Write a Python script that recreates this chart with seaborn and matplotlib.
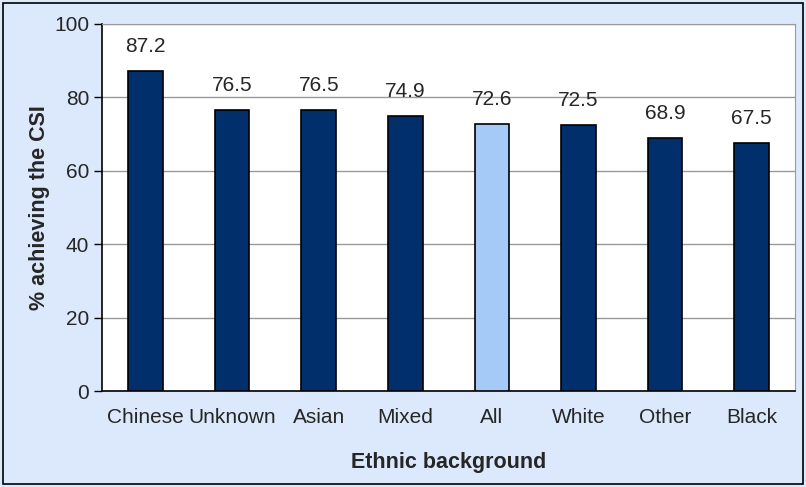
import matplotlib.pyplot as plt
import seaborn as sns
import pandas as pd
from matplotlib.patches import Rectangle

# Data
groups = ['Chinese', 'Unknown', 'Asian', 'Mixed', 'All', 'White', 'Other', 'Black']
pct = [87.2, 76.5, 76.5, 74.9, 72.6, 72.5, 68.9, 67.5]
bar_colors = ['#002f6c', '#002f6c', '#002f6c', '#002f6c', '#a6caf8', '#002f6c', '#002f6c', '#002f6c']

df = pd.DataFrame({'group': groups, 'pct': pct})

sns.set_style("white")
plt.rcParams['font.family'] = ['Liberation Sans', 'DejaVu Sans']

bg = '#dce9fc'
fig = plt.figure(figsize=(8.06, 4.87), dpi=100, facecolor=bg)
ax = fig.add_axes([0.127, 0.197, 0.859, 0.754])
ax.set_facecolor('white')

sns.barplot(data=df, x='group', y='pct', hue='group', palette=bar_colors, saturation=1,
            width=0.4, edgecolor='black', linewidth=1.2, legend=False, ax=ax, zorder=3)

ax.set_ylim(0, 100)
ax.set_xlim(-0.5, len(groups) - 0.5)
ax.set_yticks(range(0, 101, 20))
ax.yaxis.grid(True, color='#999999', linewidth=1, zorder=0)

for i, v in enumerate(pct):
    ax.annotate(f'{v}', (i, v), xytext=(0, 11), textcoords='offset points',
                ha='center', va='bottom', fontsize=15)

# tick marks between categories
ax.set_xticks([i for i in range(len(groups))])
ax.set_xticklabels(groups, fontsize=15)
ax.set_xticks([i + 0.5 for i in range(-1, len(groups))], minor=True)
ax.tick_params(axis='x', which='major', length=0, pad=12)
ax.tick_params(axis='x', which='minor', length=4, width=1, color='black', direction='out')
ax.tick_params(axis='y', length=5.5, width=1, color='black', direction='out', labelsize=15,
               left=True, pad=4)

for s in ['top', 'right']:
    ax.spines[s].set_color('#999999')
for s in ['left', 'bottom']:
    ax.spines[s].set_color('black')
    ax.spines[s].set_linewidth(1.2)

ax.set_xlabel('Ethnic background', fontsize=15.5, fontweight='bold', labelpad=18)
ax.set_ylabel('% achieving the CSI', fontsize=15.5, fontweight='bold', labelpad=3)

fig.patches.append(Rectangle((0.004, 0.006), 0.992, 0.988, transform=fig.transFigure,
                             fill=False, edgecolor='black', linewidth=1.2))

fig.savefig('out.png', dpi=100, facecolor=bg)
